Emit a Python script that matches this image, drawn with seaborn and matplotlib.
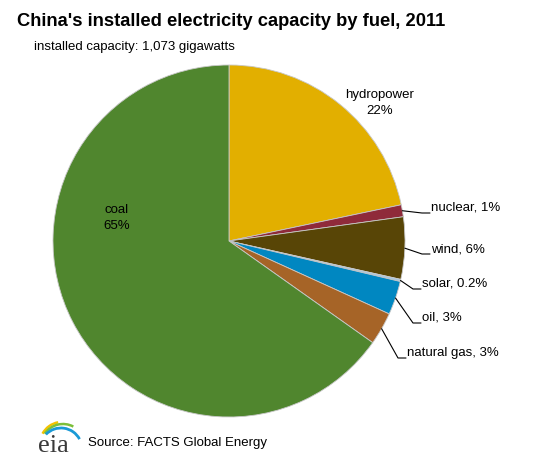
import matplotlib

matplotlib.use("Agg")

import matplotlib.pyplot as plt
import numpy as np
import seaborn as sns
from matplotlib.patches import Arc

# Share of installed capacity, clockwise from 12 o'clock.
fuels = ["hydropower", "nuclear", "wind", "solar", "oil", "natural gas", "coal"]
shares = [21.7, 1.1, 5.7, 0.2, 3.1, 3.0, 65.2]
share_labels = ["22%", "1%", "6%", "0.2%", "3%", "3%", "65%"]
colors = ["#e2af00", "#8f2a3a", "#584506", "#a9c7e0", "#0087c1", "#a66427", "#50862e"]

sns.set_theme(style="white")
plt.rcParams["font.family"] = ["Liberation Sans", "DejaVu Sans"]

W, H = 542, 459
cx, cy, r = 229, 241, 176
fig = plt.figure(figsize=(W / 100, H / 100), dpi=100)
ax = fig.add_axes([(cx - r) / W, (H - cy - r) / H, 2 * r / W, 2 * r / H])

wedges, _ = ax.pie(
    shares,
    colors=colors,
    startangle=90,
    counterclock=False,
    radius=1,
    wedgeprops=dict(linewidth=0.6, edgecolor="#c8c8c8"),
)
ax.set_xlim(-1, 1)
ax.set_ylim(-1, 1)
ax.set_aspect("equal")
ax.axis("off")


def px(x, y):
    return (x - cx) / r, (cy - y) / r


# big slices: label inside / next to the slice
ax.text(*px(380, 103), f"{fuels[0]}\n{share_labels[0]}", ha="center", va="center",
        fontsize=9.5, linespacing=1.35, color="black")
ax.text(*px(117, 218), f"{fuels[6]}\n{share_labels[6]}", ha="center", va="center",
        fontsize=9.5, linespacing=1.35, color="black")

# small slices: leader lines to the right
elbows = {"nuclear": (422, 213), "wind": (422, 254), "solar": (413, 289),
          "oil": (413, 323), "natural gas": (398, 358)}
tail = 8
for i, w in enumerate(wedges):
    name = fuels[i]
    if name not in elbows:
        continue
    ang = np.deg2rad((w.theta1 + w.theta2) / 2)
    x0, y0 = np.cos(ang), np.sin(ang)
    ex, ey = px(*elbows[name])
    tx = ex + tail / r
    ax.plot([x0, ex, tx], [y0, ey, ey], color="black", lw=0.8, clip_on=False)
    ax.text(tx + 1 / r, ey - 1 / r, f"{name}, {share_labels[i]}", ha="left", va="bottom",
            fontsize=9.5, color="black")

fig.text(17 / W, 1 - 22 / H, "China's installed electricity capacity by fuel, 2011",
         ha="left", va="center", fontsize=13.2, fontweight="bold", color="black")
fig.text(34 / W, 1 - 47 / H, "installed capacity: 1,073 gigawatts",
         ha="left", va="center", fontsize=9.5, color="black")
fig.text(88 / W, 1 - 443 / H, "Source: FACTS Global Energy",
         ha="left", va="center", fontsize=9.5, color="black")

# eia logo: serif wordmark with three swooshes above it
fig.text(38 / W, 1 - 446 / H, "eia", ha="left", va="center", fontsize=19,
         family="Liberation Serif", color="#3a3a3a")
lax = fig.add_axes([0, 0, 1, 1], facecolor="none")
lax.set_xlim(0, W)
lax.set_ylim(0, H)
lax.axis("off")
swooshes = [
    ((62, H - 444), 44, "#f2c200", 1.8, 100, 152),
    ((63, H - 446), 44, "#7cbf3a", 1.8, 62, 146),
    ((61, H - 449), 42, "#1a9ad6", 2.0, 28, 136),
]
for center, diam, col, lw, t1, t2 in swooshes:
    lax.add_patch(Arc(center, diam, diam, theta1=t1, theta2=t2, color=col, lw=lw))

fig.savefig("out.png", dpi=100, facecolor="white")
